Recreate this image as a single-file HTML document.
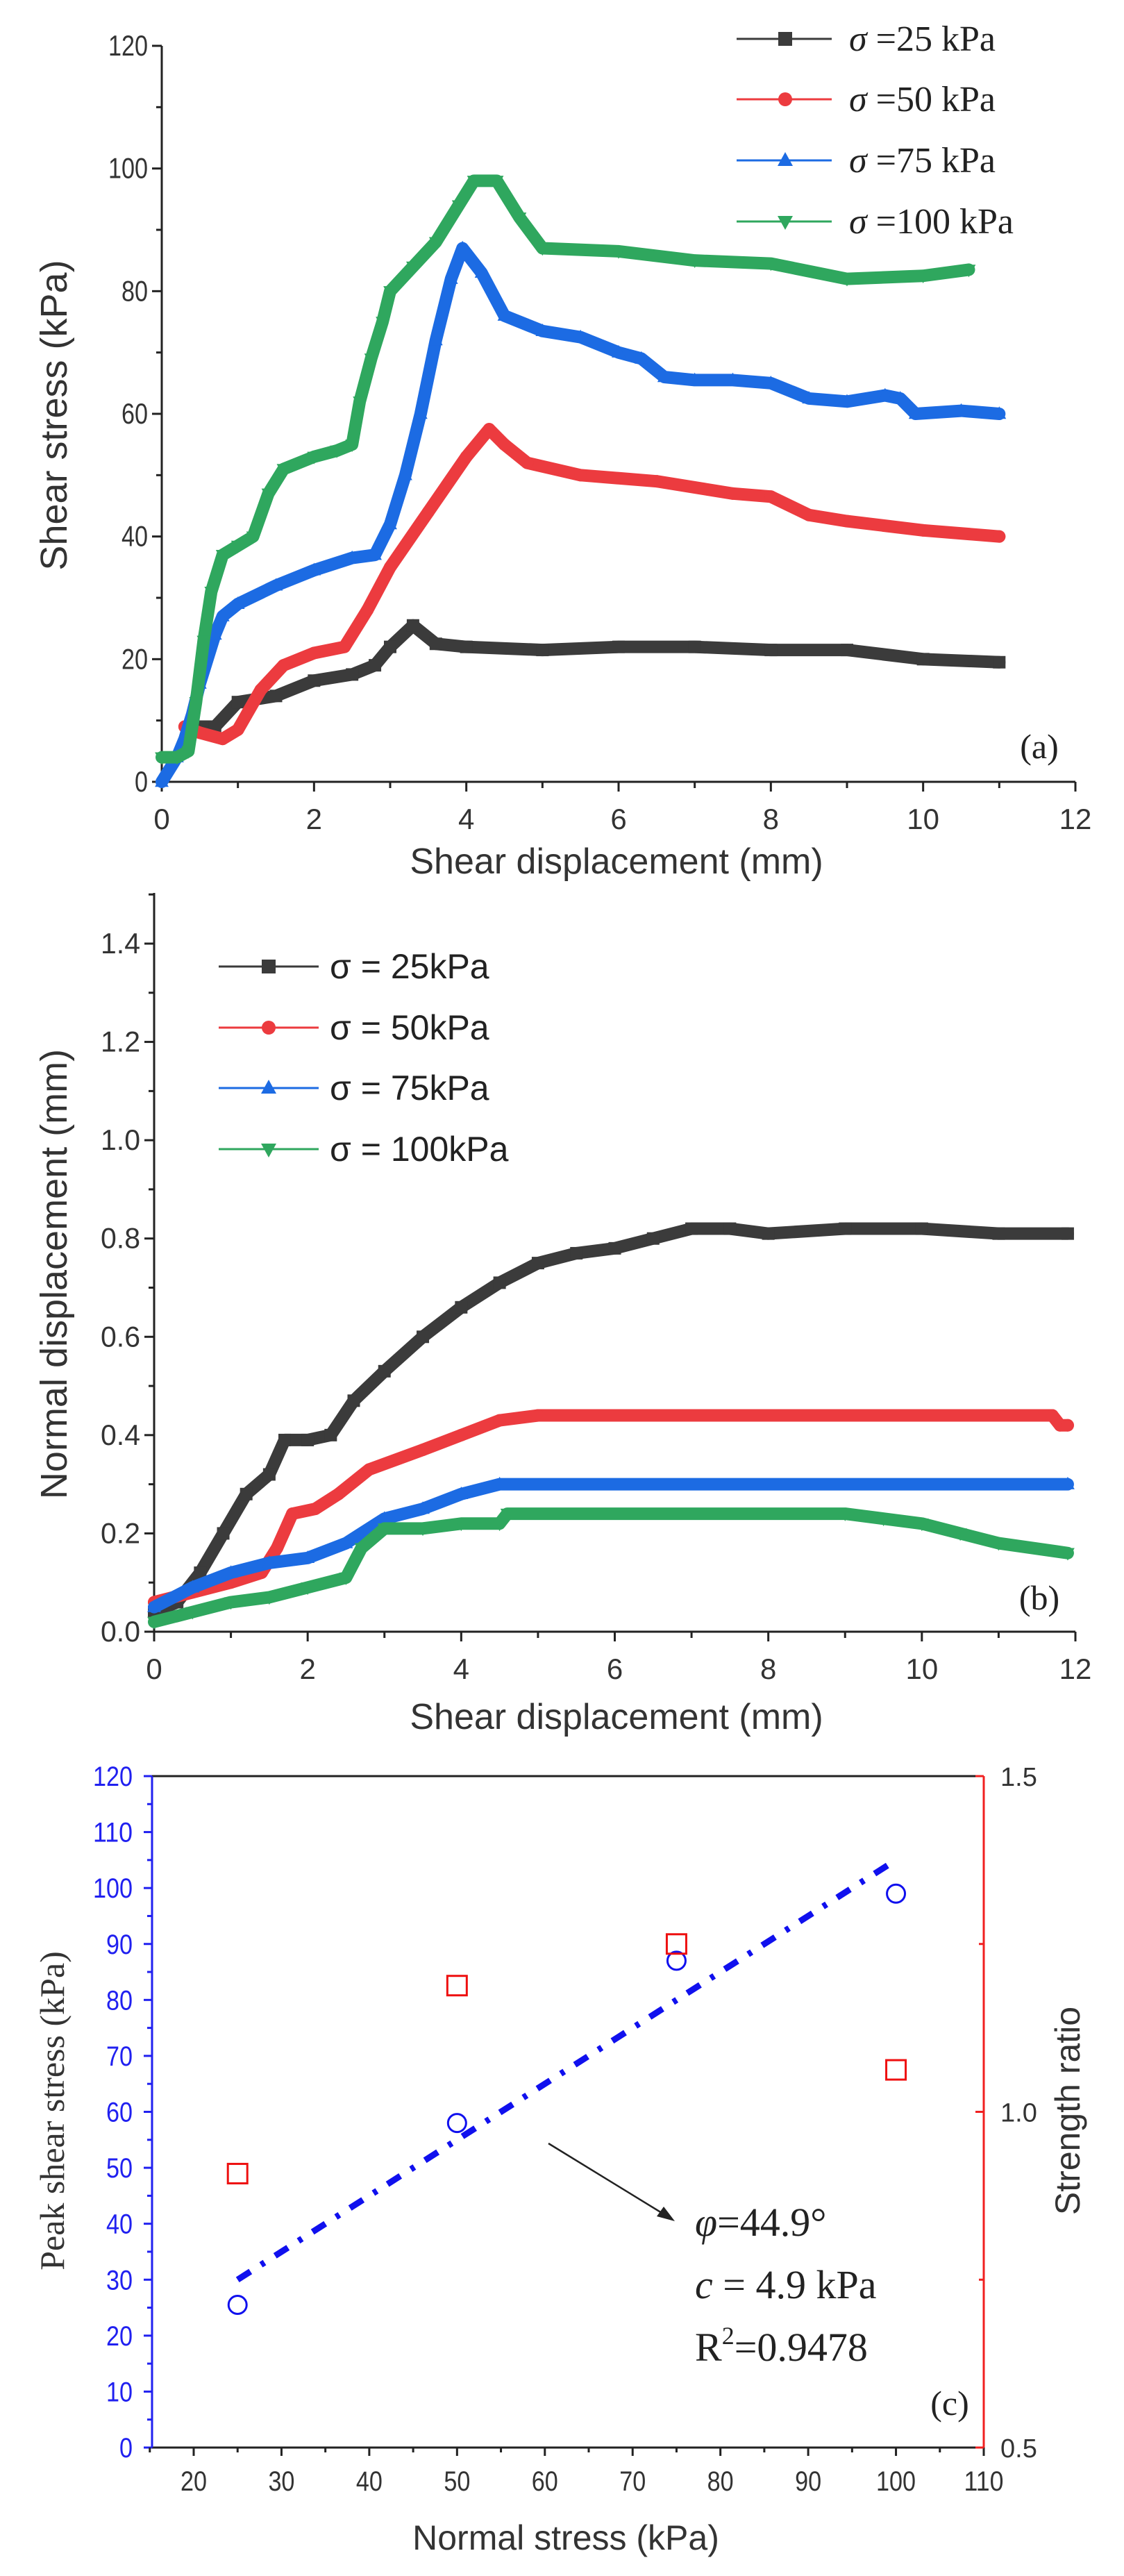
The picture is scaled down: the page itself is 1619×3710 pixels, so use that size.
<!DOCTYPE html>
<html><head><meta charset="utf-8"><style>
html,body{margin:0;padding:0;background:#fff;}
svg{display:block;}
text{font-family:"Liberation Sans",sans-serif;}
.serif{font-family:"Liberation Serif",serif;}
</style></head><body>
<svg id="fig" width="1619" height="3710" viewBox="0 0 1619 3710" xmlns="http://www.w3.org/2000/svg">
<g id="pa"></g>
<g id="pb"></g>
<g id="pc"></g>
</svg>
<script>
// ---------- Panel (a) data ----------
const aX25=[0.4,0.7,1.0,1.5,2.0,2.5,2.8,3.0,3.3,3.6,4,5,6,7,8,9,10,11];
const aY25=[9,9,13,14,16.5,17.5,19,22,25.5,22.5,22,21.5,22,22,21.5,21.5,20,19.5];
const aX50=[0.3,0.5,0.8,1.0,1.3,1.6,2.0,2.4,2.7,3.0,3.5,4.0,4.3,4.5,4.8,5.5,6.5,7.5,8,8.5,9,10,11];
const aY50=[9,8,7,8.5,15,19,21,22,28,35,44,53,57.5,55,52,50,49,47,46.5,43.5,42.5,41,40];
const aX75=[0,0.2,0.3,0.4,0.5,0.7,0.8,1,1.5,2,2.5,2.8,3.0,3.2,3.4,3.6,3.8,3.95,4.2,4.5,5,5.5,6,6.3,6.6,7,7.5,8,8.5,9,9.5,9.7,9.9,10.5,11];
const aY75=[0,4,7,11,16,24,27,29,32,34.5,36.5,37,42,50,60,72,82,87,83,76,73.5,72.5,70,69,66,65.5,65.5,65,62.5,62,63,62.5,60,60.5,60];
const aX100=[0,0.2,0.35,0.45,0.55,0.65,0.8,1,1.2,1.4,1.6,2,2.3,2.5,2.6,2.75,2.9,3.0,3.3,3.6,3.9,4.1,4.4,4.7,5.0,6,7,8,9,10,10.6];
const aY100=[4,4,5,13,23,31,37,38.5,40,47,51,53,54,55,62,69,75,80,84,88,94,98,98,92,87,86.5,85,84.5,82,82.5,83.5];
const aXTicks=[0,2,4,6,8,10,12];
const aYTicks=[0,20,40,60,80,100,120];
const aLegend=[" =25 kPa"," =50 kPa"," =75 kPa"," =100 kPa"];
// ---------- Panel (b) data ----------
const bX25=[0,0.3,0.6,0.9,1.2,1.5,1.7,2.0,2.3,2.6,3.0,3.5,4.0,4.5,5,5.5,6,6.5,7,7.5,8,9,10,11,11.9];
const bY25=[0.04,0.06,0.12,0.2,0.28,0.32,0.39,0.39,0.40,0.47,0.53,0.60,0.66,0.71,0.75,0.77,0.78,0.80,0.82,0.82,0.81,0.82,0.82,0.81,0.81];
const bX50=[0,0.5,1,1.4,1.6,1.8,2.1,2.4,2.8,3.5,4,4.5,5,11.7,11.8,11.9];
const bY50=[0.06,0.08,0.1,0.12,0.17,0.24,0.25,0.28,0.33,0.37,0.40,0.43,0.44,0.44,0.42,0.42];
const bX75=[0,0.5,1,1.5,2,2.5,3,3.5,4,4.5,11.9];
const bY75=[0.05,0.09,0.12,0.14,0.15,0.18,0.23,0.25,0.28,0.30,0.30];
const bX100=[0,0.5,1,1.5,2,2.5,2.7,3,3.5,4,4.5,4.6,9,9.5,10,10.5,11,11.9];
const bY100=[0.02,0.04,0.06,0.07,0.09,0.11,0.17,0.21,0.21,0.22,0.22,0.24,0.24,0.23,0.22,0.20,0.18,0.16];
const bXTicks=[0,2,4,6,8,10,12];
const bYTicks=[0.0,0.2,0.4,0.6,0.8,1.0,1.2,1.4];
const bLegend=["σ = 25kPa","σ = 50kPa","σ = 75kPa","σ = 100kPa"];
// ---------- Panel (c) data ----------
const cNormal=[25,50,75,100];
const cPeak=[25.5,58,87,99];
const cRatio=[0.908,1.188,1.25,1.0625];
const cFitX=[25,100];
const cFitY=[30,105];
const cXTicks=[20,30,40,50,60,70,80,90,100,110];
const cYTicks=[0,10,20,30,40,50,60,70,80,90,100,110,120];
const cRTicks=[0.5,1.0,1.5];

const NS="http://www.w3.org/2000/svg";
function mk(parent,tag,attrs,txt){const e=document.createElementNS(NS,tag);for(const k in attrs)e.setAttribute(k,attrs[k]);if(txt!==undefined)e.textContent=txt;parent.appendChild(e);return e;}
const COL=["#3b3b3b","#ec3b3f","#1c6be3","#2fa75e"];
const MARK=["square","circle","up","down"];
function marker(g,type,x,y,s,c){
  let e;
  if(type==="square"){e=mk(g,"rect",{x:x-s,y:y-s,width:2*s,height:2*s,fill:c});}
  else if(type==="circle"){e=mk(g,"circle",{cx:x,cy:y,r:s,fill:c});}
  else if(type==="up"){e=mk(g,"polygon",{points:`${x},${y-s*1.2} ${x-s*1.1},${y+s*0.8} ${x+s*1.1},${y+s*0.8}`,fill:c});}
  else {e=mk(g,"polygon",{points:`${x},${y+s*1.2} ${x-s*1.1},${y-s*0.8} ${x+s*1.1},${y-s*0.8}`,fill:c});}
  
  
  return e;
}
function series(g,xs,ys,sx,sy,i,name,w){
  const sg=mk(g,"g",{});
  
  
  const pts=xs.map((x,k)=>sx(x)+","+sy(ys[k])).join(" ");
  mk(sg,"polyline",{points:pts,fill:"none",stroke:COL[i],"stroke-width":w,"stroke-linejoin":"round","stroke-linecap":"round"});
  xs.forEach((x,k)=>marker(sg,MARK[i],sx(x),sy(ys[k]),9,COL[i]));
}
function axesBasic(g,sx,sy,xt,yt,yMinor,xMinor,x0,y0,yTop,xEnd,fmtY,yfs){
  const ax=mk(g,"g",{});
  
  
  mk(ax,"line",{x1:x0,y1:y0,x2:x0,y2:yTop,stroke:"#222","stroke-width":3});
  mk(ax,"line",{x1:x0,y1:y0,x2:xEnd,y2:y0,stroke:"#222","stroke-width":3});
  yt.forEach(v=>{mk(ax,"line",{x1:x0-14,y1:sy(v),x2:x0,y2:sy(v),stroke:"#222","stroke-width":3});
    const t=mk(ax,"text",{x:x0-20,y:sy(v)+14,"text-anchor":"end","font-size":yfs,fill:"#333",textLength:fmtY(v).length*19,lengthAdjust:"spacingAndGlyphs"},fmtY(v));
    });
  yMinor.forEach(v=>mk(ax,"line",{x1:x0-8,y1:sy(v),x2:x0,y2:sy(v),stroke:"#222","stroke-width":3}));
  xt.forEach(v=>{mk(ax,"line",{x1:sx(v),y1:y0,x2:sx(v),y2:y0+14,stroke:"#222","stroke-width":3});
    const t=mk(ax,"text",{x:sx(v),y:y0+68,"text-anchor":"middle","font-size":yfs,fill:"#333"},String(v));
    });
  xMinor.forEach(v=>mk(ax,"line",{x1:sx(v),y1:y0,x2:sx(v),y2:y0+9,stroke:"#222","stroke-width":3}));
}

// ===== Panel A =====
(function(){
  const g=document.getElementById("pa");
  const sx=x=>233+x*(1549-233)/12, sy=y=>1126-y*(1126-66)/120;
  const minorY=[10,30,50,70,90,110], minorX=[1,3,5,7,9,11];
  axesBasic(g,sx,sy,aXTicks,aYTicks,minorY,minorX,233,1126,66,1549,v=>String(v),42);
  series(g,aX25,aY25,sx,sy,0,"series-25kpa",18);
  series(g,aX50,aY50,sx,sy,1,"series-50kpa",18);
  series(g,aX75,aY75,sx,sy,2,"series-75kpa",18);
  series(g,aX100,aY100,sx,sy,3,"series-100kpa",18);
  const yt=mk(g,"text",{x:0,y:0,transform:"translate(96,598) rotate(-90)","text-anchor":"middle","font-size":54,fill:"#333"},"Shear stress (kPa)");
  
  const xt=mk(g,"text",{x:888,y:1258,"text-anchor":"middle","font-size":52,fill:"#333"},"Shear displacement (mm)");
  
  const lab=mk(g,"text",{x:1497,y:1092,"text-anchor":"middle","font-size":50,fill:"#222",class:"serif"},"(a)");
  
  aLegend.forEach((s,i)=>{
    const y=[56,143,231,319][i];
    const lg=mk(g,"g",{});
    
    
    mk(lg,"line",{x1:1061,y1:y,x2:1198,y2:y,stroke:COL[i],"stroke-width":3});
    marker(lg,MARK[i],1131,y,10,COL[i]);
    const t=mk(lg,"text",{x:1223,y:y+17,"font-size":52,fill:"#222",class:"serif"});
    mk(t,"tspan",{"font-style":"italic"},"σ");
    mk(t,"tspan",{},s);
  });
})();

// ===== Panel B =====
(function(){
  const g=document.getElementById("pb");
  const sx=x=>222+x*(1549-222)/12, sy=y=>2350-y*(2350-1359)/1.4;
  const minorY=[0.1,0.3,0.5,0.7,0.9,1.1,1.3,1.5], minorX=[1,3,5,7,9,11];
  axesBasic(g,sx,sy,bXTicks,bYTicks,minorY,minorX,222,2350,1286,1549,v=>v.toFixed(1),42);
  series(g,bX25,bY25,sx,sy,0,"series-25kpa",18);
  series(g,bX50,bY50,sx,sy,1,"series-50kpa",18);
  series(g,bX75,bY75,sx,sy,2,"series-75kpa",18);
  series(g,bX100,bY100,sx,sy,3,"series-100kpa",18);
  const yt=mk(g,"text",{x:0,y:0,transform:"translate(96,1835) rotate(-90)","text-anchor":"middle","font-size":54,fill:"#333"},"Normal displacement (mm)");
  
  const xt=mk(g,"text",{x:888,y:2490,"text-anchor":"middle","font-size":52,fill:"#333"},"Shear displacement (mm)");
  
  const lab=mk(g,"text",{x:1497,y:2318,"text-anchor":"middle","font-size":50,fill:"#222",class:"serif"},"(b)");
  
  bLegend.forEach((s,i)=>{
    const y=[1392,1480,1567,1655][i];
    const lg=mk(g,"g",{});
    
    
    mk(lg,"line",{x1:315,y1:y,x2:459,y2:y,stroke:COL[i],"stroke-width":3});
    marker(lg,MARK[i],387,y,10,COL[i]);
    mk(lg,"text",{x:475,y:y+17,"font-size":50,fill:"#222"},s);
  });
})();

// ===== Panel C =====
(function(){
  const g=document.getElementById("pc");
  const L=219,R=1417,T=2558,B=3525;
  const sx=x=>279+(x-20)*(1417-279)/90, sy=y=>B-y*(B-T)/120, sr=r=>B-(r-0.5)*(B-T)/1.0;
  const ax=mk(g,"g",{});
  
  
  mk(ax,"line",{x1:L,y1:T,x2:R,y2:T,stroke:"#222","stroke-width":3});
  mk(ax,"line",{x1:L,y1:B,x2:R,y2:B,stroke:"#222","stroke-width":3});
  mk(ax,"line",{x1:L,y1:T,x2:L,y2:B,stroke:"#2020f0","stroke-width":3});
  mk(ax,"line",{x1:R,y1:T,x2:R,y2:B,stroke:"#f02020","stroke-width":3});
  cYTicks.forEach(v=>{mk(ax,"line",{x1:L-12,y1:sy(v),x2:L,y2:sy(v),stroke:"#2020f0","stroke-width":3});
    const t=mk(ax,"text",{x:L-28,y:sy(v)+14,"text-anchor":"end","font-size":40,fill:"#2020f0",textLength:String(v).length*19,lengthAdjust:"spacingAndGlyphs"},String(v));
    
    if(v<120) mk(ax,"line",{x1:L-7,y1:sy(v+5),x2:L,y2:sy(v+5),stroke:"#2020f0","stroke-width":3});});
  cXTicks.forEach(v=>{mk(ax,"line",{x1:sx(v),y1:B,x2:sx(v),y2:B+12,stroke:"#222","stroke-width":3});
    mk(ax,"line",{x1:sx(v-5),y1:B,x2:sx(v-5),y2:B+7,stroke:"#222","stroke-width":3});
    const t=mk(ax,"text",{x:sx(v),y:B+62,"text-anchor":"middle","font-size":40,fill:"#333",textLength:String(v).length*19,lengthAdjust:"spacingAndGlyphs"},String(v));
    });
  cRTicks.forEach(v=>{mk(ax,"line",{x1:R,y1:sr(v),x2:R-12,y2:sr(v),stroke:"#f02020","stroke-width":3});
    const t=mk(ax,"text",{x:R+24,y:sr(v)+14,"font-size":38,fill:"#333"},v.toFixed(1));
    });
  [0.75,1.25].forEach(v=>mk(ax,"line",{x1:R,y1:sr(v),x2:R-7,y2:sr(v),stroke:"#f02020","stroke-width":3}));
  const fit=mk(g,"line",{x1:sx(cFitX[0]),y1:sy(cFitY[0]),x2:sx(cFitX[1]),y2:sy(cFitY[1]),stroke:"#1010ee","stroke-width":9,"stroke-dasharray":"22 18 6 18"});
  
  cNormal.forEach((x,i)=>{
    const c=mk(g,"circle",{cx:sx(x),cy:sy(cPeak[i]),r:13,fill:"none",stroke:"#1010ee","stroke-width":3});
    
    
    const s=mk(g,"rect",{x:sx(x)-14,y:sr(cRatio[i])-14,width:28,height:28,fill:"none",stroke:"#ee1010","stroke-width":3});
    
    
  });
  const ar=mk(g,"g",{});
  
  mk(ar,"line",{x1:790,y1:3087,x2:958,y2:3190,stroke:"#222","stroke-width":2.5});
  mk(ar,"polygon",{points:"972,3199 946,3192 956,3178",fill:"#222"});
  const ann=mk(g,"g",{class:"serif"});
  
  const t1=mk(ann,"text",{x:1001,y:3220,"font-size":58,fill:"#222",class:"serif"});
  mk(t1,"tspan",{"font-style":"italic"},"φ");mk(t1,"tspan",{},"=44.9°");
  const t2=mk(ann,"text",{x:1001,y:3310,"font-size":58,fill:"#222",class:"serif"});
  mk(t2,"tspan",{"font-style":"italic"},"c");mk(t2,"tspan",{}," = 4.9 kPa");
  const t3=mk(ann,"text",{x:1001,y:3400,"font-size":58,fill:"#222",class:"serif"});
  mk(t3,"tspan",{},"R");mk(t3,"tspan",{"font-size":36,dy:-24},"2");mk(t3,"tspan",{dy:24},"=0.9478");
  const lab=mk(g,"text",{x:1368,y:3478,"text-anchor":"middle","font-size":50,fill:"#222",class:"serif"},"(c)");
  
  const yt=mk(g,"text",{x:0,y:0,transform:"translate(92,3040) rotate(-90)","text-anchor":"middle","font-size":50,fill:"#333",class:"serif"},"Peak shear stress (kPa)");
  
  const rt=mk(g,"text",{x:0,y:0,transform:"translate(1555,3040) rotate(-90)","text-anchor":"middle","font-size":50,fill:"#333"},"Strength ratio");
  
  const xt=mk(g,"text",{x:815,y:3672,"text-anchor":"middle","font-size":50,fill:"#333"},"Normal stress (kPa)");
  
})();
</script>
</body></html>
